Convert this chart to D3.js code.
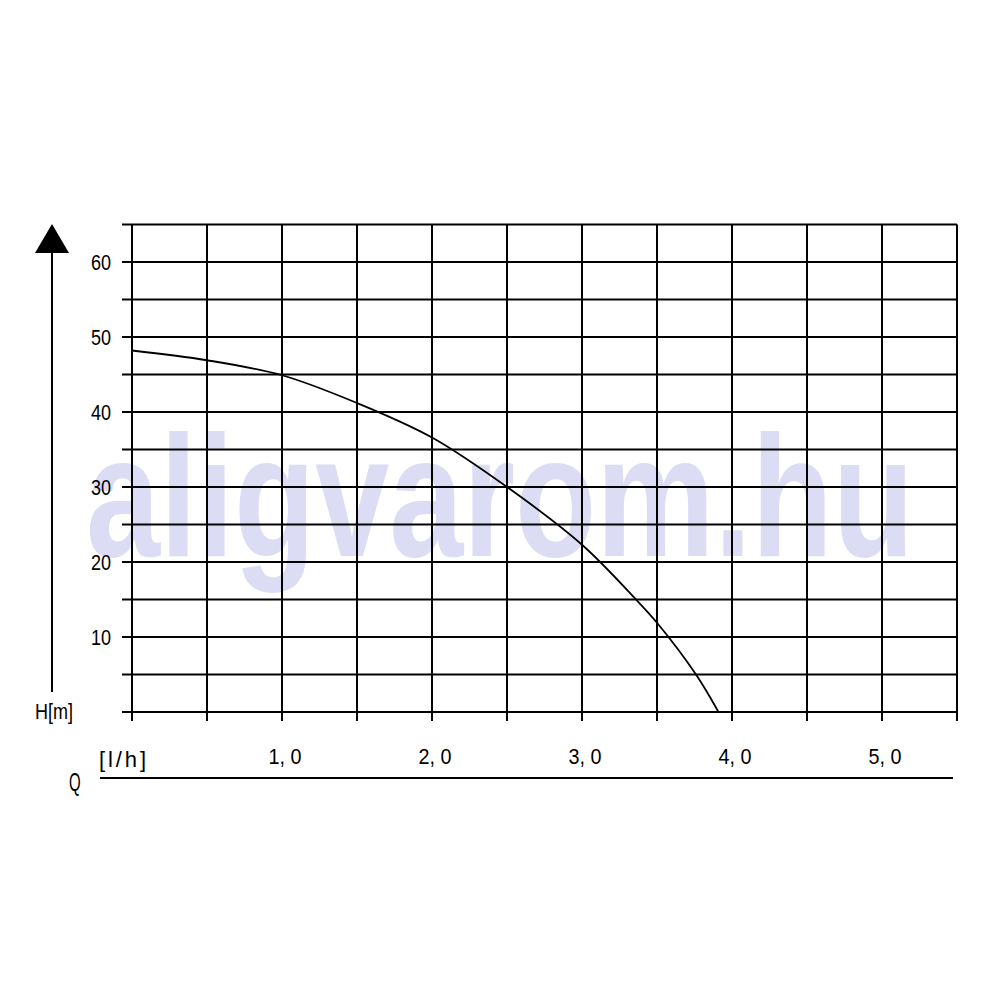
<!DOCTYPE html>
<html>
<head>
<meta charset="utf-8">
<script src="https://cdn.jsdelivr.net/npm/d3@7"></script>
<style>
html,body{margin:0;padding:0;background:#fff;}
svg{display:block;}
text{font-family:"Liberation Sans",Arial,sans-serif;}
</style>
</head>
<body>
<svg id="chart" width="1000" height="1000"></svg>
<script>
const flowQ = [0, 0.5, 1.0, 1.5, 2.0, 2.5, 3.0, 3.36, 3.5, 3.76, 3.91];
const headH = [48.2, 46.9, 44.9, 41.2, 36.6, 30.0, 22.3, 15.0, 11.9, 5.0, 0];
const xTickValues = [1, 2, 3, 4, 5];
const xTickLabels = ["1, 0", "2, 0", "3, 0", "4, 0", "5, 0"];
const yTickValues = [10, 20, 30, 40, 50, 60];
const yTickLabels = ["10", "20", "30", "40", "50", "60"];
const xGrid = d3.range(0, 5.51, 0.5);
const yGrid = d3.range(0, 65.1, 5);

const svg = d3.select("#chart");
const x = d3.scaleLinear().domain([0, 5.5]).range([132, 957]);
const y = d3.scaleLinear().domain([0, 65]).range([712, 224.5]);
const sx = 0.82;

// watermark
svg.append("text")
  .attr("x", 86).attr("y", 556)
  .attr("textLength", 828).attr("lengthAdjust", "spacingAndGlyphs")
  .style("font-weight", "bold").style("font-size", "172px")
  .attr("fill", "#dcdcf4")
  .text("aligvarom.hu");

// grid
svg.append("g").selectAll("line").data(xGrid).join("line")
  .attr("x1", d => x(d)).attr("x2", d => x(d))
  .attr("y1", y(65)).attr("y2", y(0) + 9)
  .attr("stroke", "#000").attr("stroke-width", 2);
svg.append("g").selectAll("line").data(yGrid).join("line")
  .attr("x1", 122).attr("x2", x(5.5))
  .attr("y1", d => y(d)).attr("y2", d => y(d))
  .attr("stroke", "#000").attr("stroke-width", 2);

// y tick labels
svg.append("g").selectAll("text").data(yTickValues).join("text")
  .attr("transform", d => `translate(111,${y(d) + 8}) scale(${sx},1)`)
  .attr("text-anchor", "end").style("font-size", "22px").attr("fill", "#000")
  .text((d, i) => yTickLabels[i]);

// x tick labels
svg.append("g").selectAll("text").data(xTickValues).join("text")
  .attr("transform", d => `translate(${x(d) + 3},764) scale(0.9,1)`)
  .attr("text-anchor", "middle").style("font-size", "22px").attr("fill", "#000")
  .text((d, i) => xTickLabels[i]);

// curve
const line = d3.line().x(d => x(d[0])).y(d => y(d[1])).curve(d3.curveCatmullRom);
svg.append("path")
  .datum(flowQ.map((q, i) => [q, headH[i]]))
  .attr("d", line).attr("fill", "none").attr("stroke", "#000").attr("stroke-width", 1.8);

// vertical arrow
svg.append("line").attr("x1", 52).attr("x2", 52).attr("y1", 250).attr("y2", 692)
  .attr("stroke", "#000").attr("stroke-width", 2);
svg.append("path").attr("d", "M52,224L69,253L35,253Z").attr("fill", "#000");

// labels
svg.append("text").attr("x", 35).attr("y", 719).attr("textLength", 38).attr("lengthAdjust", "spacingAndGlyphs")
  .style("font-size", "22px").text("H[m]");
svg.append("text").attr("x", 99).attr("y", 767).attr("textLength", 47).attr("lengthAdjust", "spacing")
  .style("font-size", "22px").text("[l/h]");
svg.append("text").attr("transform", "translate(69,791) scale(0.6,1)").style("font-size", "25px").text("Q");
svg.append("line").attr("x1", 100).attr("x2", 953).attr("y1", 778).attr("y2", 778)
  .attr("stroke", "#000").attr("stroke-width", 2);
</script>
</body>
</html>
